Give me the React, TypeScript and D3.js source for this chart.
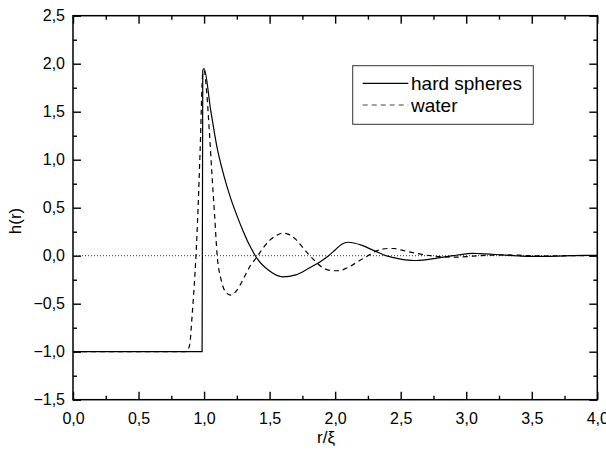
import React, { useEffect, useRef } from 'react';
import * as d3 from 'd3';

// hard spheres h(r)
const hsR = [0, 0.5, 0.985, 0.99, 1.0, 1.05, 1.1, 1.15, 1.2, 1.25, 1.3, 1.35, 1.4, 1.5, 1.6, 1.7, 1.8, 1.9, 1.95, 2.0, 2.05, 2.1, 2.2, 2.3, 2.4, 2.5, 2.6, 2.7, 2.8, 2.9, 3.0, 3.05, 3.1, 3.2, 3.3, 3.4, 3.5, 3.6, 3.7, 3.8, 3.9, 4.0];
const hsH = [-1, -1, -1, 1.93, 1.95, 1.52, 1.12, 0.84, 0.61, 0.42, 0.25, 0.1, -0.02, -0.16, -0.22, -0.2, -0.13, -0.05, 0.0, 0.06, 0.12, 0.14, 0.11, 0.05, -0.005, -0.035, -0.05, -0.04, -0.02, 0.0, 0.02, 0.025, 0.022, 0.015, 0.005, -0.003, -0.008, -0.008, -0.005, 0.0, 0.003, 0.003];

// water h(r)
const wR = [0, 0.5, 0.85, 0.87, 0.89, 0.91, 0.93, 0.95, 0.97, 0.99, 1.0, 1.02, 1.04, 1.06, 1.08, 1.1, 1.13, 1.16, 1.2, 1.25, 1.3, 1.35, 1.41, 1.45, 1.5, 1.55, 1.6, 1.65, 1.7, 1.75, 1.8, 1.85, 1.9, 1.95, 2.0, 2.05, 2.1, 2.2, 2.25, 2.3, 2.4, 2.45, 2.5, 2.6, 2.7, 2.8, 2.9, 3.0, 3.1, 3.2, 3.3, 3.4, 3.5, 3.6, 3.8, 4.0];
const wH = [-1, -1, -1, -0.99, -0.93, -0.6, -0.2, 0.35, 1.1, 1.9, 1.93, 1.7, 1.3, 0.85, 0.43, 0.0, -0.25, -0.37, -0.41, -0.36, -0.24, -0.11, 0.0, 0.08, 0.16, 0.21, 0.235, 0.22, 0.17, 0.09, 0.01, -0.06, -0.12, -0.15, -0.157, -0.15, -0.12, -0.04, 0.0, 0.04, 0.075, 0.075, 0.06, 0.03, 0.005, -0.01, -0.015, -0.01, 0.0, 0.005, 0.008, 0.005, 0.0, -0.003, 0.0, 0.0];

const xMajor = [0, 0.5, 1, 1.5, 2, 2.5, 3, 3.5, 4];
const yMajor = [-1.5, -1, -0.5, 0, 0.5, 1, 1.5, 2, 2.5];
const seriesNames = ['hard spheres', 'water'];

const W = 606;
const H = 457;
const FONT = '"Liberation Sans", Arial, sans-serif';

const App: React.FC = () => {
  const svgRef = useRef<SVGSVGElement | null>(null);

  useEffect(() => {
    if (!svgRef.current) return;
    const svg = d3.select(svgRef.current);
    svg.selectAll('*').remove();

    const margin = { top: 15.7, right: 8.7, bottom: 57.3, left: 73 };
    const x = d3.scaleLinear().domain([0, 4]).range([margin.left, W - margin.right]);
    const y = d3.scaleLinear().domain([-1.5, 2.5]).range([H - margin.bottom, margin.top]);
    const fmt = (d: d3.NumberValue) => d3.format('.1f')(+d).replace('.', ',');

    const xMinor = d3.range(0.25, 4, 0.5);
    const yMinor = d3.range(-1.25, 2.5, 0.5);

    // major + minor ticks on all four sides, pointing inward
    const addAxis = (axis: d3.Axis<d3.NumberValue>, tx: number, ty: number, labels: boolean) => {
      const g = svg.append('g').attr('transform', `translate(${tx},${ty})`).call(axis);
      g.select('.domain').remove();
      g.selectAll('line').attr('stroke', '#000').attr('stroke-width', 1.4);
      g.selectAll('text')
        .style('font-family', FONT)
        .style('font-size', '16px')
        .attr('fill', labels ? '#000' : 'none');
      return g;
    };

    const bottom = H - margin.bottom;
    const right = W - margin.right;
    addAxis(d3.axisBottom(x).tickValues(xMajor).tickSize(-8).tickPadding(13).tickFormat(fmt), 0, bottom, true);
    addAxis(d3.axisBottom(x).tickValues(xMinor).tickSize(-4).tickFormat(() => ''), 0, bottom, false);
    addAxis(d3.axisTop(x).tickValues(xMajor).tickSize(-8).tickFormat(() => ''), 0, margin.top, false);
    addAxis(d3.axisTop(x).tickValues(xMinor).tickSize(-4).tickFormat(() => ''), 0, margin.top, false);
    addAxis(d3.axisLeft(y).tickValues(yMajor).tickSize(-8).tickPadding(8).tickFormat(fmt), margin.left, 0, true);
    addAxis(d3.axisLeft(y).tickValues(yMinor).tickSize(-4).tickFormat(() => ''), margin.left, 0, false);
    addAxis(d3.axisRight(y).tickValues(yMajor).tickSize(-8).tickFormat(() => ''), right, 0, false);
    addAxis(d3.axisRight(y).tickValues(yMinor).tickSize(-4).tickFormat(() => ''), right, 0, false);

    // zero line
    svg
      .append('line')
      .attr('x1', x(0))
      .attr('x2', x(4))
      .attr('y1', y(0))
      .attr('y2', y(0))
      .attr('stroke', '#333')
      .attr('stroke-width', 1)
      .attr('stroke-dasharray', '1,2');

    const line = d3
      .line<[number, number]>()
      .x((d) => x(d[0]))
      .y((d) => y(d[1]))
      .curve(d3.curveMonotoneX);

    const hsData = hsR.map((r, i) => [r, hsH[i]] as [number, number]);
    const wData = wR.map((r, i) => [r, wH[i]] as [number, number]);

    svg
      .append('path')
      .datum(wData)
      .attr('fill', 'none')
      .attr('stroke', '#000')
      .attr('stroke-width', 1.2)
      .attr('stroke-dasharray', '5,4')
      .attr('d', line);

    svg
      .append('path')
      .datum(hsData)
      .attr('fill', 'none')
      .attr('stroke', '#000')
      .attr('stroke-width', 1.2)
      .attr('d', line);

    // frame
    svg
      .append('rect')
      .attr('x', margin.left)
      .attr('y', margin.top)
      .attr('width', right - margin.left)
      .attr('height', bottom - margin.top)
      .attr('fill', 'none')
      .attr('stroke', '#000')
      .attr('stroke-width', 1.5);

    // legend
    const lg = svg.append('g');
    lg.append('rect')
      .attr('x', 352.7)
      .attr('y', 65.7)
      .attr('width', 180.6)
      .attr('height', 58.6)
      .attr('fill', '#fff')
      .attr('stroke', '#333')
      .attr('stroke-width', 1);
    seriesNames.forEach((name, i) => {
      const ly = 83.3 + i * 21.7;
      lg.append('line')
        .attr('x1', 362.7)
        .attr('x2', 408.3)
        .attr('y1', ly)
        .attr('y2', ly)
        .attr('stroke', i === 0 ? '#000' : '#444')
        .attr('stroke-width', 1.2)
        .attr('stroke-dasharray', i === 0 ? null : '5,4');
      lg.append('text')
        .attr('x', 411)
        .attr('y', ly)
        .attr('dy', '0.35em')
        .style('font-family', FONT)
        .style('font-size', '19px')
        .text(name);
    });

    // axis titles
    svg
      .append('text')
      .attr('transform', `translate(15,221) rotate(-90)`)
      .attr('text-anchor', 'middle')
      .attr('dy', '0.35em')
      .style('font-family', FONT)
      .style('font-size', '17px')
      .text('h(r)');

    svg
      .append('text')
      .attr('x', 326)
      .attr('y', 443)
      .attr('text-anchor', 'middle')
      .style('font-family', FONT)
      .style('font-size', '17px')
      .text('r/ξ');
  }, []);

  return (
    <svg
      ref={svgRef}
      width={W}
      height={H}
      style={{ position: 'absolute', left: 0, top: 0, background: '#fff' }}
    ></svg>
  );
};

export default App;
